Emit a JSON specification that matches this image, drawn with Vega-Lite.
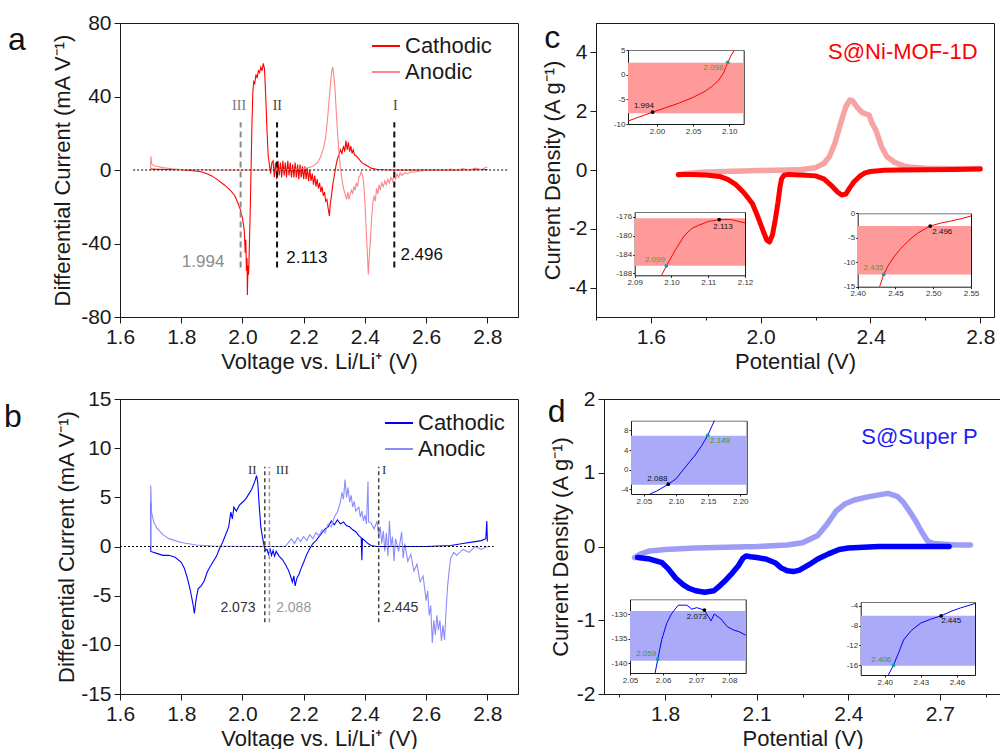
{
"$schema": "https://vega.github.io/schema/vega-lite/v6.json",
"padding": {"left": 3, "top": 11, "right": 0, "bottom": 0},
"config": {
 "font": "Liberation Sans",
 "view": {"stroke": "#1a1a1a", "strokeWidth": 1},
 "axis": {"labelFont": "Liberation Sans", "titleFont": "Liberation Sans", "labelFontSize": 21, "titleFontSize": 22, "titleFontWeight": "normal", "labelColor": "#1a1a1a", "titleColor": "#1a1a1a", "domainColor": "#1a1a1a", "tickColor": "#1a1a1a", "grid": false, "labelPadding": 3, "titlePadding": 4, "labelOverlap": false, "labelFlush": false, "labelBound": false},
 "legend": {"labelFont": "Liberation Sans", "labelFontSize": 22, "labelColor": "#1a1a1a", "symbolStrokeWidth": 2, "symbolSize": 784, "symbolType": "stroke", "rowPadding": 0, "labelOffset": 4},
 "title": {"font": "Liberation Sans", "fontWeight": "normal", "fontSize": 32, "color": "#111"}
},
"resolve": {"scale": {"color": "independent"}, "legend": {"color": "independent"}},
"spacing": 14,
"vconcat": [
 {"spacing": 21, "hconcat": [
  {"width": 398, "height": 294,
   "title": {"text": "a", "orient": "left", "angle": 0, "anchor": "end", "align": "right", "baseline": "top", "frame": "group", "offset": 8, "dy": 2},
   "layer": [
    {"data": {"name": "aLines"}, "mark": {"type": "line", "strokeWidth": 1.1},
     "encoding": {
      "x": {"field": "x", "type": "quantitative", "scale": {"domain": [1.6, 2.9], "nice": false, "zero": false},
            "axis": {"orient": "bottom", "title": "Voltage vs. Li/Li⁺ (V)", "values": [1.6,1.7,1.8,1.9,2.0,2.1,2.2,2.3,2.4,2.5,2.6,2.7,2.8,2.9], "labelExpr": "round(datum.value*10)%2==0 ? format(datum.value,'.1f') : ''", "tickSize": {"condition": {"test": "round(datum.value*10)%2==0", "value": 6}, "value": 3}}},
      "y": {"field": "y", "type": "quantitative", "scale": {"domain": [-80, 80], "nice": false, "zero": false},
            "axis": {"orient": "left", "title": "Differential Current (mA V⁻¹)", "titlePadding": 6, "values": [-80,-60,-40,-20,0,20,40,60,80], "labelExpr": "datum.value%40==0 ? replace(format(datum.value,'d'),'−','-') : ''", "tickSize": {"condition": {"test": "datum.value%40==0", "value": 6}, "value": 3}}},
      "color": {"field": "s", "type": "nominal", "scale": {"domain": ["Cathodic", "Anodic"], "range": ["#FF0000", "#FF8585"]}, "legend": {"orient": "none", "legendX": 251, "legendY": 8, "title": null}}
     }},
    {"data": {"values": [{"x": 1.643, "x2": 2.866, "y": 0}]}, "mark": {"type": "rule", "color": "#000", "strokeDash": [2, 2], "strokeWidth": 1},
     "encoding": {"x": {"field": "x", "type": "quantitative"}, "x2": {"field": "x2"}, "y": {"field": "y", "type": "quantitative"}}},
    {"data": {"name": "aRules"}, "mark": {"type": "rule", "strokeDash": [6, 4], "strokeWidth": 2},
     "encoding": {"x": {"field": "x", "type": "quantitative"}, "y": {"field": "y1", "type": "quantitative"}, "y2": {"field": "y2"}, "color": {"condition": {"test": "datum.x < 2", "value": "#8c8c8c"}, "value": "#111"}}},
    {"data": {"name": "aRoman"}, "mark": {"type": "text", "font": "Liberation Serif", "fontSize": 14, "baseline": "middle"},
     "encoding": {"x": {"field": "x", "type": "quantitative"}, "y": {"field": "y", "type": "quantitative"}, "text": {"field": "t"}, "color": {"condition": {"test": "datum.t=='III'", "value": "#777"}, "value": "#444"}}},
    {"data": {"name": "aVals"}, "mark": {"type": "text", "fontSize": 17, "align": "left", "baseline": "middle"},
     "encoding": {"x": {"field": "x", "type": "quantitative"}, "y": {"field": "y", "type": "quantitative"}, "text": {"field": "t"}, "color": {"condition": {"test": "datum.t=='1.994'", "value": "#8c8c8c"}, "value": "#111"}}}
   ]},
  {"width": 398, "height": 294,
   "title": {"text": "c", "orient": "left", "angle": 0, "anchor": "end", "align": "right", "baseline": "top", "frame": "group", "offset": -35, "dy": 0},
   "resolve": {"scale": {"x": "independent", "y": "independent"}},
   "layer": [
    {"layer": [
     {"data": {"name": "cLines"}, "transform": [{"filter": "datum.s=='Anodic'"}], "mark": {"type": "line", "color": "#F7A3A3", "strokeWidth": 5.5, "strokeCap": "round", "strokeJoin": "round"},
      "encoding": {
       "x": {"field": "x", "type": "quantitative", "scale": {"domain": [1.4, 2.85], "nice": false, "zero": false},
             "axis": {"orient": "bottom", "title": "Potential (V)", "values": [1.4,1.6,1.8,2.0,2.2,2.4,2.6,2.8], "labelExpr": "round(datum.value*10)%4==0 ? format(datum.value,'.1f') : ''", "tickSize": {"condition": {"test": "round(datum.value*10)%4==0", "value": 6}, "value": 3}}},
       "y": {"field": "y", "type": "quantitative", "scale": {"domain": [-5, 5], "nice": false, "zero": false},
             "axis": {"orient": "left", "title": "Current Density (A g⁻¹)", "values": [-4, -2, 0, 2, 4], "labelExpr": "replace(datum.label,'−','-')", "tickSize": 6}}
      }},
     {"data": {"name": "cLines"}, "transform": [{"filter": "datum.s=='Cathodic'"}], "mark": {"type": "line", "color": "#FF0000", "strokeWidth": 5, "strokeCap": "round", "strokeJoin": "round"},
      "encoding": {"x": {"field": "x", "type": "quantitative"}, "y": {"field": "y", "type": "quantitative"}}},
     {"data": {"values": [{"x": 2.79, "y": 4.0, "t": "S@Ni-MOF-1D"}]}, "mark": {"type": "text", "align": "right", "baseline": "middle", "fontSize": 22, "color": "#FF0000"},
      "encoding": {"x": {"field": "x", "type": "quantitative"}, "y": {"field": "y", "type": "quantitative"}, "text": {"field": "t"}}}
    ]},
    {"resolve": {"axis": {"x": "independent", "y": "independent"}}, "layer": [
     {"data": {"name": "bands"}, "transform": [{"filter": "datum.p=='c1'"}], "mark": {"type": "rect", "color": "#FF9A9A"},
      "encoding": {
       "x": {"field": "x1", "type": "quantitative", "scale": {"domain": [1.96, 2.12], "range": [32, 147.7], "nice": false, "zero": false}, "axis": {"orient": "bottom", "offset": -193, "values": [2.0, 2.05, 2.1], "format": ".2f", "labelFontSize": 8, "tickSize": 2, "labelPadding": 1, "title": null, "labelColor": "#333"}},
       "x2": {"field": "x2"},
       "y": {"field": "y1", "type": "quantitative", "scale": {"domain": [-10, 5], "range": [101, 27], "nice": false, "zero": false}, "axis": {"orient": "left", "offset": -32, "values": [-10, -5, 0, 5], "labelExpr": "replace(datum.label,'−','-')", "labelFontSize": 8, "tickSize": 2, "labelPadding": 1, "title": null, "labelColor": "#333"}},
       "y2": {"field": "y2"}}},
     {"data": {"name": "insetCurves"}, "transform": [{"filter": "datum.p=='c1'"}], "mark": {"type": "line", "color": "#FF0000", "strokeWidth": 1},
      "encoding": {"x": {"field": "x", "type": "quantitative", "axis": {"orient": "top", "offset": -27, "labels": false, "ticks": false, "title": null, "domainColor": "#777"}}, "y": {"field": "y", "type": "quantitative", "axis": {"orient": "right", "offset": -250.3, "labels": false, "ticks": false, "title": null}}}},
     {"data": {"name": "insetMarks"}, "transform": [{"filter": "datum.p=='c1'"}], "mark": {"type": "circle", "size": 14, "opacity": 1},
      "encoding": {"x": {"field": "x", "type": "quantitative", "axis": null}, "y": {"field": "y", "type": "quantitative", "axis": null}, "color": {"condition": {"test": "datum.k=='o'", "value": "#169E9E"}, "value": "#000"}}},
     {"data": {"name": "insetMarks"}, "transform": [{"filter": "datum.p=='c1'"}], "mark": {"type": "text", "fontSize": 8, "baseline": "middle"},
      "encoding": {"x": {"field": "lx", "type": "quantitative", "axis": null}, "y": {"field": "ly", "type": "quantitative", "axis": null}, "text": {"field": "t"}, "color": {"condition": {"test": "datum.k=='o'", "value": "#5A9A2A"}, "value": "#111"}}}
    ]},
    {"resolve": {"axis": {"x": "independent", "y": "independent"}}, "layer": [
     {"data": {"name": "bands"}, "transform": [{"filter": "datum.p=='c2'"}], "mark": {"type": "rect", "color": "#FF9A9A"},
      "encoding": {
       "x": {"field": "x1", "type": "quantitative", "scale": {"domain": [2.09, 2.12], "range": [38.7, 149], "nice": false, "zero": false}, "axis": {"orient": "bottom", "offset": -41.7, "values": [2.09, 2.1, 2.11, 2.12], "format": ".2f", "labelFontSize": 8, "tickSize": 2, "labelPadding": 1, "title": null, "labelColor": "#333"}},
       "x2": {"field": "x2"},
       "y": {"field": "y1", "type": "quantitative", "scale": {"domain": [-188.4, -175], "range": [252.3, 189], "nice": false, "zero": false}, "axis": {"orient": "left", "offset": -38.7, "values": [-188, -184, -180, -176], "labelExpr": "replace(datum.label,'−','-')", "labelFontSize": 8, "tickSize": 2, "labelPadding": 1, "title": null, "labelColor": "#333"}},
       "y2": {"field": "y2"}}},
     {"data": {"name": "insetCurves"}, "transform": [{"filter": "datum.p=='c2'"}], "mark": {"type": "line", "color": "#FF0000", "strokeWidth": 1},
      "encoding": {"x": {"field": "x", "type": "quantitative", "axis": {"orient": "top", "offset": -189, "labels": false, "ticks": false, "title": null, "domainColor": "#777"}}, "y": {"field": "y", "type": "quantitative", "axis": {"orient": "right", "offset": -249, "labels": false, "ticks": false, "title": null}}}},
     {"data": {"name": "insetMarks"}, "transform": [{"filter": "datum.p=='c2'"}], "mark": {"type": "circle", "size": 14, "opacity": 1},
      "encoding": {"x": {"field": "x", "type": "quantitative", "axis": null}, "y": {"field": "y", "type": "quantitative", "axis": null}, "color": {"condition": {"test": "datum.k=='o'", "value": "#169E9E"}, "value": "#000"}}},
     {"data": {"name": "insetMarks"}, "transform": [{"filter": "datum.p=='c2'"}], "mark": {"type": "text", "fontSize": 8, "baseline": "middle"},
      "encoding": {"x": {"field": "lx", "type": "quantitative", "axis": null}, "y": {"field": "ly", "type": "quantitative", "axis": null}, "text": {"field": "t"}, "color": {"condition": {"test": "datum.k=='o'", "value": "#5A9A2A"}, "value": "#111"}}}
    ]},
    {"resolve": {"axis": {"x": "independent", "y": "independent"}}, "layer": [
     {"data": {"name": "bands"}, "transform": [{"filter": "datum.p=='c3'"}], "mark": {"type": "rect", "color": "#FF9A9A"},
      "encoding": {
       "x": {"field": "x1", "type": "quantitative", "scale": {"domain": [2.4, 2.55], "range": [261.7, 375], "nice": false, "zero": false}, "axis": {"orient": "bottom", "offset": -30.3, "values": [2.4, 2.45, 2.5, 2.55], "format": ".2f", "labelFontSize": 8, "tickSize": 2, "labelPadding": 1, "title": null, "labelColor": "#333"}},
       "x2": {"field": "x2"},
       "y": {"field": "y1", "type": "quantitative", "scale": {"domain": [-15, 0], "range": [263.7, 190.3], "nice": false, "zero": false}, "axis": {"orient": "left", "offset": -261.7, "values": [-15, -10, -5, 0], "labelExpr": "replace(datum.label,'−','-')", "labelFontSize": 8, "tickSize": 2, "labelPadding": 1, "title": null, "labelColor": "#333"}},
       "y2": {"field": "y2"}}},
     {"data": {"name": "insetCurves"}, "transform": [{"filter": "datum.p=='c3'"}], "mark": {"type": "line", "color": "#FF0000", "strokeWidth": 1},
      "encoding": {"x": {"field": "x", "type": "quantitative", "axis": {"orient": "top", "offset": -190.3, "labels": false, "ticks": false, "title": null, "domainColor": "#777"}}, "y": {"field": "y", "type": "quantitative", "axis": {"orient": "right", "offset": -23, "labels": false, "ticks": false, "title": null}}}},
     {"data": {"name": "insetMarks"}, "transform": [{"filter": "datum.p=='c3'"}], "mark": {"type": "circle", "size": 14, "opacity": 1},
      "encoding": {"x": {"field": "x", "type": "quantitative", "axis": null}, "y": {"field": "y", "type": "quantitative", "axis": null}, "color": {"condition": {"test": "datum.k=='o'", "value": "#169E9E"}, "value": "#000"}}},
     {"data": {"name": "insetMarks"}, "transform": [{"filter": "datum.p=='c3'"}], "mark": {"type": "text", "fontSize": 8, "baseline": "middle"},
      "encoding": {"x": {"field": "lx", "type": "quantitative", "axis": null}, "y": {"field": "ly", "type": "quantitative", "axis": null}, "text": {"field": "t"}, "color": {"condition": {"test": "datum.k=='o'", "value": "#5A9A2A"}, "value": "#111"}}}
    ]}
   ]}
 ]},
 {"spacing": 28, "hconcat": [
  {"width": 398, "height": 295,
   "title": {"text": "b", "orient": "left", "angle": 0, "anchor": "end", "align": "right", "baseline": "top", "frame": "group", "offset": 16, "dy": 3},
   "layer": [
    {"data": {"name": "bLines"}, "mark": {"type": "line", "strokeWidth": 1.1},
     "encoding": {
      "x": {"field": "x", "type": "quantitative", "scale": {"domain": [1.6, 2.9], "nice": false, "zero": false},
            "axis": {"orient": "bottom", "title": "Voltage vs. Li/Li⁺ (V)", "values": [1.6,1.7,1.8,1.9,2.0,2.1,2.2,2.3,2.4,2.5,2.6,2.7,2.8,2.9], "labelExpr": "round(datum.value*10)%2==0 ? format(datum.value,'.1f') : ''", "tickSize": {"condition": {"test": "round(datum.value*10)%2==0", "value": 6}, "value": 3}}},
      "y": {"field": "y", "type": "quantitative", "scale": {"domain": [-15, 15], "nice": false, "zero": false},
            "axis": {"orient": "left", "title": "Differential Current (mA V⁻¹)", "titlePadding": 2, "values": [-15,-12.5,-10,-7.5,-5,-2.5,0,2.5,5,7.5,10,12.5,15], "labelExpr": "datum.value%5==0 ? replace(format(datum.value,'d'),'−','-') : ''", "tickSize": {"condition": {"test": "datum.value%5==0", "value": 6}, "value": 3}}},
      "color": {"field": "s", "type": "nominal", "scale": {"domain": ["Cathodic", "Anodic"], "range": ["#0000FF", "#8C8CFF"]}, "legend": {"orient": "none", "legendX": 264, "legendY": 9, "title": null}}
     }},
    {"data": {"values": [{"x": 1.6, "x2": 2.82, "y": 0}]}, "mark": {"type": "rule", "color": "#000", "strokeDash": [2, 2], "strokeWidth": 1},
     "encoding": {"x": {"field": "x", "type": "quantitative"}, "x2": {"field": "x2"}, "y": {"field": "y", "type": "quantitative"}}},
    {"data": {"name": "bRules"}, "mark": {"type": "rule", "strokeDash": [4, 3], "strokeWidth": 1.5},
     "encoding": {"x": {"field": "x", "type": "quantitative"}, "y": {"field": "y1", "type": "quantitative"}, "y2": {"field": "y2"}, "color": {"condition": {"test": "datum.x > 2.08 && datum.x < 2.1", "value": "#999"}, "value": "#444"}}},
    {"data": {"name": "bRoman"}, "mark": {"type": "text", "font": "Liberation Serif", "fontSize": 13, "baseline": "middle"},
     "encoding": {"x": {"field": "x", "type": "quantitative"}, "y": {"field": "y", "type": "quantitative"}, "text": {"field": "t"}, "color": {"value": "#333"}}},
    {"data": {"name": "bVals"}, "mark": {"type": "text", "fontSize": 14, "align": "left", "baseline": "middle"},
     "encoding": {"x": {"field": "x", "type": "quantitative"}, "y": {"field": "y", "type": "quantitative"}, "text": {"field": "t"}, "color": {"condition": {"test": "datum.t=='2.088'", "value": "#999"}, "value": "#333"}}}
   ]},
  {"width": 397, "height": 295,
   "title": {"text": "d", "orient": "left", "angle": 0, "anchor": "end", "align": "right", "baseline": "top", "frame": "group", "offset": -34, "dy": -2},
   "resolve": {"scale": {"x": "independent", "y": "independent"}},
   "layer": [
    {"layer": [
     {"data": {"name": "dLines"}, "transform": [{"filter": "datum.s=='Anodic'"}], "mark": {"type": "line", "color": "#9D9DF6", "strokeWidth": 5.5, "strokeCap": "round", "strokeJoin": "round"},
      "encoding": {
       "x": {"field": "x", "type": "quantitative", "scale": {"domain": [1.6, 2.9], "nice": false, "zero": false},
             "axis": {"orient": "bottom", "title": "Potential (V)", "values": [1.65,1.8,1.95,2.1,2.25,2.4,2.55,2.7,2.85], "labelExpr": "round(datum.value*100)%30==0 ? format(datum.value,'.1f') : ''", "tickSize": {"condition": {"test": "round(datum.value*100)%30==0", "value": 6}, "value": 3}}},
       "y": {"field": "y", "type": "quantitative", "scale": {"domain": [-2, 2], "nice": false, "zero": false},
             "axis": {"orient": "left", "title": "Current Density (A g⁻¹)", "values": [-2,-1.5,-1,-0.5,0,0.5,1,1.5,2], "labelExpr": "datum.value%1==0 ? replace(format(datum.value,'d'),'−','-') : ''", "tickSize": {"condition": {"test": "datum.value%1==0", "value": 6}, "value": 3}}}
      }},
     {"data": {"name": "dLines"}, "transform": [{"filter": "datum.s=='Cathodic'"}], "mark": {"type": "line", "color": "#0000FF", "strokeWidth": 5.5, "strokeCap": "round", "strokeJoin": "round"},
      "encoding": {"x": {"field": "x", "type": "quantitative"}, "y": {"field": "y", "type": "quantitative"}}},
     {"data": {"values": [{"x": 2.824, "y": 1.49, "t": "S@Super P"}]}, "mark": {"type": "text", "align": "right", "baseline": "middle", "fontSize": 22, "color": "#1E1EF0"},
      "encoding": {"x": {"field": "x", "type": "quantitative"}, "y": {"field": "y", "type": "quantitative"}, "text": {"field": "t"}}}
    ]},
    {"resolve": {"axis": {"x": "independent", "y": "independent"}}, "layer": [
     {"data": {"name": "bands"}, "transform": [{"filter": "datum.p=='d1'"}], "mark": {"type": "rect", "color": "#AAAAF8"},
      "encoding": {
       "x": {"field": "x1", "type": "quantitative", "scale": {"domain": [2.03, 2.21], "range": [27, 142.7], "nice": false, "zero": false}, "axis": {"orient": "bottom", "offset": -200, "values": [2.05, 2.1, 2.15, 2.2], "format": ".2f", "labelFontSize": 8, "tickSize": 2, "labelPadding": 1, "title": null, "labelColor": "#333"}},
       "x2": {"field": "x2"},
       "y": {"field": "y1", "type": "quantitative", "scale": {"domain": [-5, 10], "range": [95, 21.7], "nice": false, "zero": false}, "axis": {"orient": "left", "offset": -27, "values": [-4, 0, 4, 8], "labelExpr": "replace(datum.label,'−','-')", "labelFontSize": 8, "tickSize": 2, "labelPadding": 1, "title": null, "labelColor": "#333"}},
       "y2": {"field": "y2"}}},
     {"data": {"name": "insetCurves"}, "transform": [{"filter": "datum.p=='d1'"}], "mark": {"type": "line", "color": "#0000FF", "strokeWidth": 1},
      "encoding": {"x": {"field": "x", "type": "quantitative", "axis": {"orient": "top", "offset": -21.7, "labels": false, "ticks": false, "title": null, "domainColor": "#777"}}, "y": {"field": "y", "type": "quantitative", "axis": {"orient": "right", "offset": -254.3, "labels": false, "ticks": false, "title": null}}}},
     {"data": {"name": "insetMarks"}, "transform": [{"filter": "datum.p=='d1'"}], "mark": {"type": "circle", "size": 14, "opacity": 1},
      "encoding": {"x": {"field": "x", "type": "quantitative", "axis": null}, "y": {"field": "y", "type": "quantitative", "axis": null}, "color": {"condition": {"test": "datum.k=='o'", "value": "#169E9E"}, "value": "#000"}}},
     {"data": {"name": "insetMarks"}, "transform": [{"filter": "datum.p=='d1'"}], "mark": {"type": "text", "fontSize": 8, "baseline": "middle"},
      "encoding": {"x": {"field": "lx", "type": "quantitative", "axis": null}, "y": {"field": "ly", "type": "quantitative", "axis": null}, "text": {"field": "t"}, "color": {"condition": {"test": "datum.k=='o'", "value": "#3C9A2A"}, "value": "#111"}}}
    ]},
    {"resolve": {"axis": {"x": "independent", "y": "independent"}}, "layer": [
     {"data": {"name": "bands"}, "transform": [{"filter": "datum.p=='d2'"}], "mark": {"type": "rect", "color": "#AAAAF8"},
      "encoding": {
       "x": {"field": "x1", "type": "quantitative", "scale": {"domain": [2.05, 2.085], "range": [26, 141.7], "nice": false, "zero": false}, "axis": {"orient": "bottom", "offset": -21, "values": [2.05, 2.06, 2.07, 2.08], "format": ".2f", "labelFontSize": 8, "tickSize": 2, "labelPadding": 1, "title": null, "labelColor": "#333"}},
       "x2": {"field": "x2"},
       "y": {"field": "y1", "type": "quantitative", "scale": {"domain": [-142, -127], "range": [274, 200.3], "nice": false, "zero": false}, "axis": {"orient": "left", "offset": -26, "values": [-140, -135, -130], "labelExpr": "replace(datum.label,'−','-')", "labelFontSize": 8, "tickSize": 2, "labelPadding": 1, "title": null, "labelColor": "#333"}},
       "y2": {"field": "y2"}}},
     {"data": {"name": "insetCurves"}, "transform": [{"filter": "datum.p=='d2'"}], "mark": {"type": "line", "color": "#0000FF", "strokeWidth": 1},
      "encoding": {"x": {"field": "x", "type": "quantitative", "axis": {"orient": "top", "offset": -200.3, "labels": false, "ticks": false, "title": null, "domainColor": "#777"}}, "y": {"field": "y", "type": "quantitative", "axis": {"orient": "right", "offset": -255.3, "labels": false, "ticks": false, "title": null}}}},
     {"data": {"name": "insetMarks"}, "transform": [{"filter": "datum.p=='d2'"}], "mark": {"type": "circle", "size": 14, "opacity": 1},
      "encoding": {"x": {"field": "x", "type": "quantitative", "axis": null}, "y": {"field": "y", "type": "quantitative", "axis": null}, "color": {"condition": {"test": "datum.k=='o'", "value": "#169E9E"}, "value": "#000"}}},
     {"data": {"name": "insetMarks"}, "transform": [{"filter": "datum.p=='d2'"}], "mark": {"type": "text", "fontSize": 8, "baseline": "middle"},
      "encoding": {"x": {"field": "lx", "type": "quantitative", "axis": null}, "y": {"field": "ly", "type": "quantitative", "axis": null}, "text": {"field": "t"}, "color": {"condition": {"test": "datum.k=='o'", "value": "#3C9A2A"}, "value": "#111"}}}
    ]},
    {"resolve": {"axis": {"x": "independent", "y": "independent"}}, "layer": [
     {"data": {"name": "bands"}, "transform": [{"filter": "datum.p=='d3'"}], "mark": {"type": "rect", "color": "#AAAAF8"},
      "encoding": {
       "x": {"field": "x1", "type": "quantitative", "scale": {"domain": [2.38, 2.475], "range": [256.7, 371], "nice": false, "zero": false}, "axis": {"orient": "bottom", "offset": -19, "values": [2.4, 2.43, 2.46], "format": ".2f", "labelFontSize": 8, "tickSize": 2, "labelPadding": 1, "title": null, "labelColor": "#333"}},
       "x2": {"field": "x2"},
       "y": {"field": "y1", "type": "quantitative", "scale": {"domain": [-18, -3.2], "range": [276, 203], "nice": false, "zero": false}, "axis": {"orient": "left", "offset": -256.7, "values": [-16, -12, -8, -4], "labelExpr": "replace(datum.label,'−','-')", "labelFontSize": 8, "tickSize": 2, "labelPadding": 1, "title": null, "labelColor": "#333"}},
       "y2": {"field": "y2"}}},
     {"data": {"name": "insetCurves"}, "transform": [{"filter": "datum.p=='d3'"}], "mark": {"type": "line", "color": "#0000FF", "strokeWidth": 1},
      "encoding": {"x": {"field": "x", "type": "quantitative", "axis": {"orient": "top", "offset": -203, "labels": false, "ticks": false, "title": null, "domainColor": "#777"}}, "y": {"field": "y", "type": "quantitative", "axis": {"orient": "right", "offset": -26, "labels": false, "ticks": false, "title": null}}}},
     {"data": {"name": "insetMarks"}, "transform": [{"filter": "datum.p=='d3'"}], "mark": {"type": "circle", "size": 14, "opacity": 1},
      "encoding": {"x": {"field": "x", "type": "quantitative", "axis": null}, "y": {"field": "y", "type": "quantitative", "axis": null}, "color": {"condition": {"test": "datum.k=='o'", "value": "#169E9E"}, "value": "#000"}}},
     {"data": {"name": "insetMarks"}, "transform": [{"filter": "datum.p=='d3'"}], "mark": {"type": "text", "fontSize": 8, "baseline": "middle"},
      "encoding": {"x": {"field": "lx", "type": "quantitative", "axis": null}, "y": {"field": "ly", "type": "quantitative", "axis": null}, "text": {"field": "t"}, "color": {"condition": {"test": "datum.k=='o'", "value": "#3C9A2A"}, "value": "#111"}}}
    ]}
   ]}
 ]}
],
"datasets": {
 "aRules": [{"x": 1.994, "y1": -53, "y2": 26}, {"x": 2.113, "y1": -53, "y2": 26}, {"x": 2.496, "y1": -53, "y2": 26}],
 "aRoman": [{"x": 1.989, "y": 34.7, "t": "III"}, {"x": 2.114, "y": 35, "t": "II"}, {"x": 2.499, "y": 35, "t": "I"}],
 "aVals": [{"x": 1.802, "y": -50, "t": "1.994"}, {"x": 2.143, "y": -48, "t": "2.113"}, {"x": 2.516, "y": -46.5, "t": "2.496"}],
 "bRules": [{"x": 2.073, "y1": -7.7, "y2": 8.1}, {"x": 2.088, "y1": -7.7, "y2": 8.1}, {"x": 2.445, "y1": -7.7, "y2": 8.1}],
 "bRoman": [{"x": 2.032, "y": 7.8, "t": "II"}, {"x": 2.13, "y": 7.8, "t": "III"}, {"x": 2.463, "y": 7.8, "t": "I"}],
 "bVals": [{"x": 1.928, "y": -6.3, "t": "2.073"}, {"x": 2.11, "y": -6.3, "t": "2.088"}, {"x": 2.46, "y": -6.3, "t": "2.445"}],
 "bands": [
  {"p": "c1", "x1": 1.96, "x2": 2.12, "y1": -7.8, "y2": 2.4},
  {"p": "c2", "x1": 2.09, "x2": 2.12, "y1": -186.4, "y2": -176.3},
  {"p": "c3", "x1": 2.4, "x2": 2.55, "y1": -12.5, "y2": -2.6},
  {"p": "d1", "x1": 2.03, "x2": 2.21, "y1": -3.1, "y2": 6.9},
  {"p": "d2", "x1": 2.05, "x2": 2.085, "y1": -139.5, "y2": -129.4},
  {"p": "d3", "x1": 2.38, "x2": 2.475, "y1": -16.1, "y2": -6.0}
 ],
 "insetMarks": [
  {"p": "c1", "x": 1.994, "y": -7.6, "lx": 1.982, "ly": -6.4, "t": "1.994", "k": "e"},
  {"p": "c1", "x": 2.098, "y": 2.5, "lx": 2.078, "ly": 1.4, "t": "2.098", "k": "o"},
  {"p": "c2", "x": 2.113, "y": -176.6, "lx": 2.114, "ly": -178.1, "t": "2.113", "k": "e"},
  {"p": "c2", "x": 2.0986, "y": -186.4, "lx": 2.0955, "ly": -185.2, "t": "2.099", "k": "o"},
  {"p": "c3", "x": 2.496, "y": -2.6, "lx": 2.512, "ly": -3.75, "t": "2.496", "k": "e"},
  {"p": "c3", "x": 2.4345, "y": -12.5, "lx": 2.421, "ly": -11.2, "t": "2.435", "k": "o"},
  {"p": "d1", "x": 2.088, "y": -3.0, "lx": 2.071, "ly": -1.9, "t": "2.088", "k": "e"},
  {"p": "d1", "x": 2.1494, "y": 7.0, "lx": 2.1685, "ly": 5.9, "t": "2.149", "k": "o"},
  {"p": "d2", "x": 2.0725, "y": -129.2, "lx": 2.0702, "ly": -130.7, "t": "2.073", "k": "e"},
  {"p": "d2", "x": 2.0584, "y": -139.2, "lx": 2.0549, "ly": -138.2, "t": "2.059", "k": "o"},
  {"p": "d3", "x": 2.4469, "y": -6.0, "lx": 2.4552, "ly": -7.0, "t": "2.445", "k": "e"},
  {"p": "d3", "x": 2.4073, "y": -16, "lx": 2.3971, "ly": -15, "t": "2.406", "k": "o"}
 ],
 "insetCurves": [
  {"p": "c1", "x": 1.96, "y": -9.4}, {"p": "c1", "x": 1.975, "y": -8.6}, {"p": "c1", "x": 1.994, "y": -7.6}, {"p": "c1", "x": 2.01, "y": -6.8}, {"p": "c1", "x": 2.03, "y": -5.8}, {"p": "c1", "x": 2.05, "y": -4.6}, {"p": "c1", "x": 2.065, "y": -3.5}, {"p": "c1", "x": 2.075, "y": -2.5}, {"p": "c1", "x": 2.085, "y": -1.2}, {"p": "c1", "x": 2.092, "y": 0.3}, {"p": "c1", "x": 2.098, "y": 2.5}, {"p": "c1", "x": 2.103, "y": 4}, {"p": "c1", "x": 2.107, "y": 5},
  {"p": "c2", "x": 2.0973, "y": -188.4}, {"p": "c2", "x": 2.0986, "y": -186.4}, {"p": "c2", "x": 2.1011, "y": -183}, {"p": "c2", "x": 2.1035, "y": -180}, {"p": "c2", "x": 2.1055, "y": -178.5}, {"p": "c2", "x": 2.1074, "y": -177.8}, {"p": "c2", "x": 2.1101, "y": -177}, {"p": "c2", "x": 2.1132, "y": -176.6}, {"p": "c2", "x": 2.1161, "y": -176.6}, {"p": "c2", "x": 2.12, "y": -177.3},
  {"p": "c3", "x": 2.429, "y": -15}, {"p": "c3", "x": 2.4345, "y": -12.5}, {"p": "c3", "x": 2.44, "y": -10.8}, {"p": "c3", "x": 2.448, "y": -8.9}, {"p": "c3", "x": 2.457, "y": -7.2}, {"p": "c3", "x": 2.468, "y": -5.5}, {"p": "c3", "x": 2.479, "y": -4.1}, {"p": "c3", "x": 2.49, "y": -3.1}, {"p": "c3", "x": 2.496, "y": -2.6}, {"p": "c3", "x": 2.51, "y": -2}, {"p": "c3", "x": 2.523, "y": -1.6}, {"p": "c3", "x": 2.537, "y": -1.1}, {"p": "c3", "x": 2.55, "y": -0.55},
  {"p": "d1", "x": 2.0596, "y": -5}, {"p": "d1", "x": 2.07, "y": -4.4}, {"p": "d1", "x": 2.088, "y": -3.0}, {"p": "d1", "x": 2.1, "y": -1.9}, {"p": "d1", "x": 2.117, "y": 0.9}, {"p": "d1", "x": 2.13, "y": 3}, {"p": "d1", "x": 2.14, "y": 4.9}, {"p": "d1", "x": 2.1494, "y": 7.0}, {"p": "d1", "x": 2.1597, "y": 10},
  {"p": "d2", "x": 2.0576, "y": -142}, {"p": "d2", "x": 2.0584, "y": -139.2}, {"p": "d2", "x": 2.0596, "y": -135.2}, {"p": "d2", "x": 2.0611, "y": -131.9}, {"p": "d2", "x": 2.0626, "y": -129.9}, {"p": "d2", "x": 2.0646, "y": -128.2}, {"p": "d2", "x": 2.0672, "y": -128.2}, {"p": "d2", "x": 2.0687, "y": -129}, {"p": "d2", "x": 2.0702, "y": -128.7}, {"p": "d2", "x": 2.0725, "y": -129.2}, {"p": "d2", "x": 2.0745, "y": -131.4}, {"p": "d2", "x": 2.0755, "y": -130}, {"p": "d2", "x": 2.0775, "y": -131}, {"p": "d2", "x": 2.0795, "y": -132.6}, {"p": "d2", "x": 2.0815, "y": -133.3}, {"p": "d2", "x": 2.083, "y": -133.6}, {"p": "d2", "x": 2.085, "y": -134.3},
  {"p": "d3", "x": 2.403, "y": -18}, {"p": "d3", "x": 2.4073, "y": -16}, {"p": "d3", "x": 2.411, "y": -13.8}, {"p": "d3", "x": 2.4156, "y": -10.9}, {"p": "d3", "x": 2.422, "y": -9}, {"p": "d3", "x": 2.4297, "y": -7.5}, {"p": "d3", "x": 2.438, "y": -6.7}, {"p": "d3", "x": 2.4469, "y": -6.0}, {"p": "d3", "x": 2.455, "y": -5.1}, {"p": "d3", "x": 2.463, "y": -4.4}, {"p": "d3", "x": 2.475, "y": -3.5}
 ],
 "cLines": [
  {"s": "Anodic", "x": 1.7, "y": -0.17}, {"s": "Anodic", "x": 1.72, "y": -0.13}, {"s": "Anodic", "x": 1.75, "y": -0.1}, {"s": "Anodic", "x": 1.8, "y": -0.07}, {"s": "Anodic", "x": 1.9, "y": -0.04}, {"s": "Anodic", "x": 2.0, "y": -0.02}, {"s": "Anodic", "x": 2.1, "y": 0}, {"s": "Anodic", "x": 2.15, "y": 0.02}, {"s": "Anodic", "x": 2.2, "y": 0.08}, {"s": "Anodic", "x": 2.23, "y": 0.22}, {"s": "Anodic", "x": 2.25, "y": 0.45}, {"s": "Anodic", "x": 2.27, "y": 0.9}, {"s": "Anodic", "x": 2.29, "y": 1.55}, {"s": "Anodic", "x": 2.31, "y": 2.15}, {"s": "Anodic", "x": 2.325, "y": 2.38}, {"s": "Anodic", "x": 2.335, "y": 2.35}, {"s": "Anodic", "x": 2.35, "y": 2.15}, {"s": "Anodic", "x": 2.37, "y": 1.95}, {"s": "Anodic", "x": 2.385, "y": 1.9}, {"s": "Anodic", "x": 2.395, "y": 1.87}, {"s": "Anodic", "x": 2.405, "y": 1.6}, {"s": "Anodic", "x": 2.42, "y": 1.35}, {"s": "Anodic", "x": 2.44, "y": 0.8}, {"s": "Anodic", "x": 2.46, "y": 0.45}, {"s": "Anodic", "x": 2.49, "y": 0.25}, {"s": "Anodic", "x": 2.52, "y": 0.14}, {"s": "Anodic", "x": 2.55, "y": 0.09}, {"s": "Anodic", "x": 2.6, "y": 0.06}, {"s": "Anodic", "x": 2.7, "y": 0.04}, {"s": "Anodic", "x": 2.8, "y": 0.05},
  {"s": "Cathodic", "x": 1.7, "y": -0.15}, {"s": "Cathodic", "x": 1.75, "y": -0.15}, {"s": "Cathodic", "x": 1.8, "y": -0.17}, {"s": "Cathodic", "x": 1.85, "y": -0.22}, {"s": "Cathodic", "x": 1.88, "y": -0.32}, {"s": "Cathodic", "x": 1.91, "y": -0.5}, {"s": "Cathodic", "x": 1.94, "y": -0.78}, {"s": "Cathodic", "x": 1.97, "y": -1.15}, {"s": "Cathodic", "x": 1.99, "y": -1.6}, {"s": "Cathodic", "x": 2.01, "y": -2.1}, {"s": "Cathodic", "x": 2.022, "y": -2.38}, {"s": "Cathodic", "x": 2.032, "y": -2.45}, {"s": "Cathodic", "x": 2.043, "y": -2.2}, {"s": "Cathodic", "x": 2.053, "y": -1.7}, {"s": "Cathodic", "x": 2.063, "y": -1.1}, {"s": "Cathodic", "x": 2.07, "y": -0.6}, {"s": "Cathodic", "x": 2.076, "y": -0.3}, {"s": "Cathodic", "x": 2.085, "y": -0.18}, {"s": "Cathodic", "x": 2.1, "y": -0.15}, {"s": "Cathodic", "x": 2.15, "y": -0.17}, {"s": "Cathodic", "x": 2.2, "y": -0.2}, {"s": "Cathodic", "x": 2.23, "y": -0.3}, {"s": "Cathodic", "x": 2.26, "y": -0.55}, {"s": "Cathodic", "x": 2.28, "y": -0.75}, {"s": "Cathodic", "x": 2.295, "y": -0.85}, {"s": "Cathodic", "x": 2.31, "y": -0.82}, {"s": "Cathodic", "x": 2.325, "y": -0.6}, {"s": "Cathodic", "x": 2.34, "y": -0.4}, {"s": "Cathodic", "x": 2.36, "y": -0.22}, {"s": "Cathodic", "x": 2.38, "y": -0.1}, {"s": "Cathodic", "x": 2.4, "y": -0.05}, {"s": "Cathodic", "x": 2.45, "y": -0.01}, {"s": "Cathodic", "x": 2.5, "y": 0}, {"s": "Cathodic", "x": 2.6, "y": 0.01}, {"s": "Cathodic", "x": 2.7, "y": 0.02}, {"s": "Cathodic", "x": 2.8, "y": 0.03}
 ],
 "dLines": [
  {"s": "Anodic", "x": 1.7, "y": -0.15}, {"s": "Anodic", "x": 1.72, "y": -0.1}, {"s": "Anodic", "x": 1.75, "y": -0.06}, {"s": "Anodic", "x": 1.8, "y": -0.04}, {"s": "Anodic", "x": 1.9, "y": -0.02}, {"s": "Anodic", "x": 2.0, "y": -0.01}, {"s": "Anodic", "x": 2.1, "y": 0}, {"s": "Anodic", "x": 2.2, "y": 0.02}, {"s": "Anodic", "x": 2.25, "y": 0.05}, {"s": "Anodic", "x": 2.3, "y": 0.15}, {"s": "Anodic", "x": 2.33, "y": 0.3}, {"s": "Anodic", "x": 2.36, "y": 0.48}, {"s": "Anodic", "x": 2.39, "y": 0.58}, {"s": "Anodic", "x": 2.42, "y": 0.63}, {"s": "Anodic", "x": 2.46, "y": 0.67}, {"s": "Anodic", "x": 2.5, "y": 0.7}, {"s": "Anodic", "x": 2.53, "y": 0.72}, {"s": "Anodic", "x": 2.56, "y": 0.68}, {"s": "Anodic", "x": 2.58, "y": 0.6}, {"s": "Anodic", "x": 2.6, "y": 0.48}, {"s": "Anodic", "x": 2.62, "y": 0.35}, {"s": "Anodic", "x": 2.64, "y": 0.2}, {"s": "Anodic", "x": 2.66, "y": 0.07}, {"s": "Anodic", "x": 2.68, "y": 0.04}, {"s": "Anodic", "x": 2.75, "y": 0.02}, {"s": "Anodic", "x": 2.8, "y": 0.02},
  {"s": "Cathodic", "x": 1.71, "y": -0.15}, {"s": "Cathodic", "x": 1.75, "y": -0.17}, {"s": "Cathodic", "x": 1.79, "y": -0.22}, {"s": "Cathodic", "x": 1.81, "y": -0.3}, {"s": "Cathodic", "x": 1.835, "y": -0.43}, {"s": "Cathodic", "x": 1.86, "y": -0.52}, {"s": "Cathodic", "x": 1.88, "y": -0.57}, {"s": "Cathodic", "x": 1.9, "y": -0.6}, {"s": "Cathodic", "x": 1.93, "y": -0.62}, {"s": "Cathodic", "x": 1.96, "y": -0.6}, {"s": "Cathodic", "x": 1.98, "y": -0.53}, {"s": "Cathodic", "x": 2.0, "y": -0.45}, {"s": "Cathodic", "x": 2.02, "y": -0.36}, {"s": "Cathodic", "x": 2.04, "y": -0.26}, {"s": "Cathodic", "x": 2.055, "y": -0.16}, {"s": "Cathodic", "x": 2.065, "y": -0.13}, {"s": "Cathodic", "x": 2.08, "y": -0.14}, {"s": "Cathodic", "x": 2.1, "y": -0.15}, {"s": "Cathodic", "x": 2.13, "y": -0.17}, {"s": "Cathodic", "x": 2.16, "y": -0.22}, {"s": "Cathodic", "x": 2.18, "y": -0.29}, {"s": "Cathodic", "x": 2.2, "y": -0.33}, {"s": "Cathodic", "x": 2.22, "y": -0.34}, {"s": "Cathodic", "x": 2.24, "y": -0.32}, {"s": "Cathodic", "x": 2.27, "y": -0.25}, {"s": "Cathodic", "x": 2.3, "y": -0.17}, {"s": "Cathodic", "x": 2.335, "y": -0.1}, {"s": "Cathodic", "x": 2.37, "y": -0.04}, {"s": "Cathodic", "x": 2.4, "y": -0.02}, {"s": "Cathodic", "x": 2.5, "y": 0}, {"s": "Cathodic", "x": 2.6, "y": 0}, {"s": "Cathodic", "x": 2.73, "y": 0}
 ],
 "aLines": [
  {"s": "Cathodic", "x": 1.7, "y": 0.5}, {"s": "Cathodic", "x": 1.75, "y": 0.3}, {"s": "Cathodic", "x": 1.8, "y": 0.1}, {"s": "Cathodic", "x": 1.83, "y": -0.3}, {"s": "Cathodic", "x": 1.86, "y": -0.8}, {"s": "Cathodic", "x": 1.88, "y": -1.8}, {"s": "Cathodic", "x": 1.9, "y": -3.2}, {"s": "Cathodic", "x": 1.92, "y": -5.5}, {"s": "Cathodic", "x": 1.94, "y": -8}, {"s": "Cathodic", "x": 1.96, "y": -11}, {"s": "Cathodic", "x": 1.975, "y": -14}, {"s": "Cathodic", "x": 1.985, "y": -18}, {"s": "Cathodic", "x": 1.992, "y": -21}, {"s": "Cathodic", "x": 2.0, "y": -26}, {"s": "Cathodic", "x": 2.006, "y": -33}, {"s": "Cathodic", "x": 2.009, "y": -45}, {"s": "Cathodic", "x": 2.011, "y": -38}, {"s": "Cathodic", "x": 2.013, "y": -55}, {"s": "Cathodic", "x": 2.015, "y": -48}, {"s": "Cathodic", "x": 2.016, "y": -68}, {"s": "Cathodic", "x": 2.018, "y": -52}, {"s": "Cathodic", "x": 2.02, "y": -57}, {"s": "Cathodic", "x": 2.022, "y": -45}, {"s": "Cathodic", "x": 2.025, "y": -25}, {"s": "Cathodic", "x": 2.028, "y": 0}, {"s": "Cathodic", "x": 2.031, "y": 25}, {"s": "Cathodic", "x": 2.034, "y": 43}, {"s": "Cathodic", "x": 2.037, "y": 48}, {"s": "Cathodic", "x": 2.04, "y": 47}, {"s": "Cathodic", "x": 2.044, "y": 52}, {"s": "Cathodic", "x": 2.048, "y": 50}, {"s": "Cathodic", "x": 2.052, "y": 54}, {"s": "Cathodic", "x": 2.056, "y": 53}, {"s": "Cathodic", "x": 2.06, "y": 56}, {"s": "Cathodic", "x": 2.064, "y": 54}, {"s": "Cathodic", "x": 2.068, "y": 58}, {"s": "Cathodic", "x": 2.072, "y": 55}, {"s": "Cathodic", "x": 2.076, "y": 40}, {"s": "Cathodic", "x": 2.08, "y": 22}, {"s": "Cathodic", "x": 2.084, "y": 8}, {"s": "Cathodic", "x": 2.088, "y": 3}, {"s": "Cathodic", "x": 2.092, "y": -2}, {"s": "Cathodic", "x": 2.096, "y": 4},
  {"s": "Cathodic", "x": 2.1, "y": 5}, {"s": "Cathodic", "x": 2.104, "y": -4}, {"s": "Cathodic", "x": 2.108, "y": 4}, {"s": "Cathodic", "x": 2.112, "y": -5}, {"s": "Cathodic", "x": 2.116, "y": 5}, {"s": "Cathodic", "x": 2.12, "y": -3}, {"s": "Cathodic", "x": 2.124, "y": 4}, {"s": "Cathodic", "x": 2.128, "y": -4}, {"s": "Cathodic", "x": 2.132, "y": 5}, {"s": "Cathodic", "x": 2.136, "y": -3}, {"s": "Cathodic", "x": 2.14, "y": 4}, {"s": "Cathodic", "x": 2.144, "y": -4}, {"s": "Cathodic", "x": 2.148, "y": 5}, {"s": "Cathodic", "x": 2.152, "y": -3}, {"s": "Cathodic", "x": 2.156, "y": 4}, {"s": "Cathodic", "x": 2.16, "y": -4}, {"s": "Cathodic", "x": 2.164, "y": 3}, {"s": "Cathodic", "x": 2.168, "y": -4}, {"s": "Cathodic", "x": 2.172, "y": 4}, {"s": "Cathodic", "x": 2.176, "y": -4}, {"s": "Cathodic", "x": 2.18, "y": 3}, {"s": "Cathodic", "x": 2.184, "y": -5}, {"s": "Cathodic", "x": 2.188, "y": 3}, {"s": "Cathodic", "x": 2.192, "y": -4}, {"s": "Cathodic", "x": 2.196, "y": 2}, {"s": "Cathodic", "x": 2.2, "y": -5}, {"s": "Cathodic", "x": 2.204, "y": 2}, {"s": "Cathodic", "x": 2.208, "y": -5}, {"s": "Cathodic", "x": 2.212, "y": 1}, {"s": "Cathodic", "x": 2.216, "y": -6}, {"s": "Cathodic", "x": 2.22, "y": 0}, {"s": "Cathodic", "x": 2.224, "y": -6}, {"s": "Cathodic", "x": 2.228, "y": -2}, {"s": "Cathodic", "x": 2.232, "y": -8}, {"s": "Cathodic", "x": 2.236, "y": -3}, {"s": "Cathodic", "x": 2.24, "y": -9}, {"s": "Cathodic", "x": 2.244, "y": -5}, {"s": "Cathodic", "x": 2.248, "y": -10}, {"s": "Cathodic", "x": 2.252, "y": -7}, {"s": "Cathodic", "x": 2.256, "y": -12}, {"s": "Cathodic", "x": 2.26, "y": -9}, {"s": "Cathodic", "x": 2.264, "y": -14}, {"s": "Cathodic", "x": 2.268, "y": -12}, {"s": "Cathodic", "x": 2.272, "y": -17}, {"s": "Cathodic", "x": 2.276, "y": -16}, {"s": "Cathodic", "x": 2.28, "y": -21}, {"s": "Cathodic", "x": 2.284, "y": -25}, {"s": "Cathodic", "x": 2.287, "y": -18}, {"s": "Cathodic", "x": 2.29, "y": -15}, {"s": "Cathodic", "x": 2.295, "y": -8}, {"s": "Cathodic", "x": 2.3, "y": -3}, {"s": "Cathodic", "x": 2.305, "y": 2}, {"s": "Cathodic", "x": 2.31, "y": 6}, {"s": "Cathodic", "x": 2.315, "y": 8}, {"s": "Cathodic", "x": 2.32, "y": 11}, {"s": "Cathodic", "x": 2.325, "y": 9}, {"s": "Cathodic", "x": 2.33, "y": 13}, {"s": "Cathodic", "x": 2.334, "y": 10}, {"s": "Cathodic", "x": 2.338, "y": 16}, {"s": "Cathodic", "x": 2.342, "y": 11}, {"s": "Cathodic", "x": 2.346, "y": 15}, {"s": "Cathodic", "x": 2.35, "y": 10}, {"s": "Cathodic", "x": 2.354, "y": 13}, {"s": "Cathodic", "x": 2.358, "y": 9}, {"s": "Cathodic", "x": 2.362, "y": 11}, {"s": "Cathodic", "x": 2.366, "y": 8}, {"s": "Cathodic", "x": 2.37, "y": 8}, {"s": "Cathodic", "x": 2.38, "y": 6}, {"s": "Cathodic", "x": 2.39, "y": 4}, {"s": "Cathodic", "x": 2.4, "y": 3}, {"s": "Cathodic", "x": 2.41, "y": 2}, {"s": "Cathodic", "x": 2.42, "y": 1}, {"s": "Cathodic", "x": 2.44, "y": 0.3}, {"s": "Cathodic", "x": 2.46, "y": 0.1}, {"s": "Cathodic", "x": 2.5, "y": 0}, {"s": "Cathodic", "x": 2.6, "y": 0}, {"s": "Cathodic", "x": 2.7, "y": 0}, {"s": "Cathodic", "x": 2.8, "y": 0.3},
  {"s": "Anodic", "x": 1.7, "y": 0}, {"s": "Anodic", "x": 1.701, "y": 7.5}, {"s": "Anodic", "x": 1.703, "y": 3.5}, {"s": "Anodic", "x": 1.71, "y": 2.5}, {"s": "Anodic", "x": 1.72, "y": 2}, {"s": "Anodic", "x": 1.74, "y": 1.3}, {"s": "Anodic", "x": 1.77, "y": 0.7}, {"s": "Anodic", "x": 1.8, "y": 0.3}, {"s": "Anodic", "x": 1.85, "y": 0.1}, {"s": "Anodic", "x": 1.9, "y": 0}, {"s": "Anodic", "x": 2.0, "y": 0}, {"s": "Anodic", "x": 2.1, "y": 0}, {"s": "Anodic", "x": 2.15, "y": 0.2}, {"s": "Anodic", "x": 2.19, "y": 0.5}, {"s": "Anodic", "x": 2.21, "y": 1}, {"s": "Anodic", "x": 2.23, "y": 2}, {"s": "Anodic", "x": 2.245, "y": 4}, {"s": "Anodic", "x": 2.255, "y": 7}, {"s": "Anodic", "x": 2.265, "y": 12}, {"s": "Anodic", "x": 2.272, "y": 18}, {"s": "Anodic", "x": 2.278, "y": 28}, {"s": "Anodic", "x": 2.283, "y": 38}, {"s": "Anodic", "x": 2.288, "y": 48}, {"s": "Anodic", "x": 2.292, "y": 54}, {"s": "Anodic", "x": 2.295, "y": 56}, {"s": "Anodic", "x": 2.298, "y": 52}, {"s": "Anodic", "x": 2.302, "y": 45}, {"s": "Anodic", "x": 2.306, "y": 33}, {"s": "Anodic", "x": 2.31, "y": 22}, {"s": "Anodic", "x": 2.315, "y": 10}, {"s": "Anodic", "x": 2.32, "y": 1}, {"s": "Anodic", "x": 2.325, "y": -5}, {"s": "Anodic", "x": 2.33, "y": -10}, {"s": "Anodic", "x": 2.335, "y": -13}, {"s": "Anodic", "x": 2.34, "y": -16}, {"s": "Anodic", "x": 2.344, "y": -12}, {"s": "Anodic", "x": 2.348, "y": -16}, {"s": "Anodic", "x": 2.352, "y": -13}, {"s": "Anodic", "x": 2.356, "y": -11}, {"s": "Anodic", "x": 2.36, "y": -13}, {"s": "Anodic", "x": 2.364, "y": -9}, {"s": "Anodic", "x": 2.368, "y": -11}, {"s": "Anodic", "x": 2.372, "y": -7}, {"s": "Anodic", "x": 2.376, "y": -9}, {"s": "Anodic", "x": 2.38, "y": -4}, {"s": "Anodic", "x": 2.384, "y": -3}, {"s": "Anodic", "x": 2.388, "y": -1}, {"s": "Anodic", "x": 2.392, "y": -3}, {"s": "Anodic", "x": 2.396, "y": -7}, {"s": "Anodic", "x": 2.4, "y": -18}, {"s": "Anodic", "x": 2.404, "y": -32}, {"s": "Anodic", "x": 2.408, "y": -45}, {"s": "Anodic", "x": 2.411, "y": -57}, {"s": "Anodic", "x": 2.414, "y": -48}, {"s": "Anodic", "x": 2.418, "y": -38}, {"s": "Anodic", "x": 2.422, "y": -26}, {"s": "Anodic", "x": 2.426, "y": -18}, {"s": "Anodic", "x": 2.43, "y": -14}, {"s": "Anodic", "x": 2.434, "y": -17}, {"s": "Anodic", "x": 2.438, "y": -10}, {"s": "Anodic", "x": 2.442, "y": -13}, {"s": "Anodic", "x": 2.446, "y": -8}, {"s": "Anodic", "x": 2.45, "y": -11}, {"s": "Anodic", "x": 2.455, "y": -7}, {"s": "Anodic", "x": 2.46, "y": -9}, {"s": "Anodic", "x": 2.465, "y": -6}, {"s": "Anodic", "x": 2.47, "y": -8}, {"s": "Anodic", "x": 2.475, "y": -5}, {"s": "Anodic", "x": 2.48, "y": -7}, {"s": "Anodic", "x": 2.485, "y": -4}, {"s": "Anodic", "x": 2.49, "y": -6}, {"s": "Anodic", "x": 2.495, "y": -3}, {"s": "Anodic", "x": 2.5, "y": -5}, {"s": "Anodic", "x": 2.505, "y": -2}, {"s": "Anodic", "x": 2.51, "y": -4}, {"s": "Anodic", "x": 2.515, "y": -1.5}, {"s": "Anodic", "x": 2.52, "y": -3}, {"s": "Anodic", "x": 2.53, "y": -1.5}, {"s": "Anodic", "x": 2.54, "y": -2}, {"s": "Anodic", "x": 2.55, "y": -1}, {"s": "Anodic", "x": 2.56, "y": -1.2}, {"s": "Anodic", "x": 2.58, "y": -0.5}, {"s": "Anodic", "x": 2.6, "y": -0.3}, {"s": "Anodic", "x": 2.62, "y": 0}, {"s": "Anodic", "x": 2.64, "y": 0.3}, {"s": "Anodic", "x": 2.66, "y": -0.3}, {"s": "Anodic", "x": 2.68, "y": 0.5}, {"s": "Anodic", "x": 2.7, "y": -0.2}, {"s": "Anodic", "x": 2.72, "y": 0.8}, {"s": "Anodic", "x": 2.74, "y": 0}, {"s": "Anodic", "x": 2.76, "y": 1}, {"s": "Anodic", "x": 2.78, "y": 0.3}, {"s": "Anodic", "x": 2.8, "y": 1.8}
 ],
 "bLines": [
  {"s": "Cathodic", "x": 1.7, "y": 4.5}, {"s": "Cathodic", "x": 1.7005, "y": -0.5}, {"s": "Cathodic", "x": 1.72, "y": -0.7}, {"s": "Cathodic", "x": 1.74, "y": -0.9}, {"s": "Cathodic", "x": 1.76, "y": -0.9}, {"s": "Cathodic", "x": 1.78, "y": -1.1}, {"s": "Cathodic", "x": 1.8, "y": -1.6}, {"s": "Cathodic", "x": 1.81, "y": -2.2}, {"s": "Cathodic", "x": 1.82, "y": -3.2}, {"s": "Cathodic", "x": 1.83, "y": -4.5}, {"s": "Cathodic", "x": 1.838, "y": -5.8}, {"s": "Cathodic", "x": 1.843, "y": -6.8}, {"s": "Cathodic", "x": 1.848, "y": -5.5}, {"s": "Cathodic", "x": 1.855, "y": -4.3}, {"s": "Cathodic", "x": 1.865, "y": -4}, {"s": "Cathodic", "x": 1.875, "y": -3.5}, {"s": "Cathodic", "x": 1.885, "y": -2.6}, {"s": "Cathodic", "x": 1.895, "y": -2}, {"s": "Cathodic", "x": 1.905, "y": -1.5}, {"s": "Cathodic", "x": 1.915, "y": -1}, {"s": "Cathodic", "x": 1.925, "y": -0.2}, {"s": "Cathodic", "x": 1.935, "y": 0.4}, {"s": "Cathodic", "x": 1.945, "y": 1.2}, {"s": "Cathodic", "x": 1.955, "y": 2}, {"s": "Cathodic", "x": 1.962, "y": 3.5}, {"s": "Cathodic", "x": 1.967, "y": 2.8}, {"s": "Cathodic", "x": 1.972, "y": 4}, {"s": "Cathodic", "x": 1.98, "y": 3.6}, {"s": "Cathodic", "x": 1.99, "y": 4.2}, {"s": "Cathodic", "x": 2.0, "y": 4.5}, {"s": "Cathodic", "x": 2.01, "y": 4.8}, {"s": "Cathodic", "x": 2.02, "y": 5.3}, {"s": "Cathodic", "x": 2.03, "y": 5.8}, {"s": "Cathodic", "x": 2.04, "y": 6.6}, {"s": "Cathodic", "x": 2.046, "y": 7.2}, {"s": "Cathodic", "x": 2.05, "y": 6.5}, {"s": "Cathodic", "x": 2.055, "y": 4}, {"s": "Cathodic", "x": 2.06, "y": 2}, {"s": "Cathodic", "x": 2.065, "y": 1}, {"s": "Cathodic", "x": 2.07, "y": 0.2}, {"s": "Cathodic", "x": 2.075, "y": -0.4}, {"s": "Cathodic", "x": 2.08, "y": -0.3}, {"s": "Cathodic", "x": 2.085, "y": -0.8}, {"s": "Cathodic", "x": 2.09, "y": -0.2}, {"s": "Cathodic", "x": 2.095, "y": -0.9}, {"s": "Cathodic", "x": 2.1, "y": -0.4}, {"s": "Cathodic", "x": 2.105, "y": -1}, {"s": "Cathodic", "x": 2.11, "y": -0.5}, {"s": "Cathodic", "x": 2.12, "y": -1}, {"s": "Cathodic", "x": 2.13, "y": -1.3}, {"s": "Cathodic", "x": 2.14, "y": -1.8}, {"s": "Cathodic", "x": 2.15, "y": -2.4}, {"s": "Cathodic", "x": 2.157, "y": -3}, {"s": "Cathodic", "x": 2.163, "y": -3.6}, {"s": "Cathodic", "x": 2.168, "y": -3}, {"s": "Cathodic", "x": 2.172, "y": -4}, {"s": "Cathodic", "x": 2.178, "y": -3.2}, {"s": "Cathodic", "x": 2.185, "y": -2.8}, {"s": "Cathodic", "x": 2.192, "y": -2.2}, {"s": "Cathodic", "x": 2.2, "y": -1.6}, {"s": "Cathodic", "x": 2.21, "y": -0.8}, {"s": "Cathodic", "x": 2.22, "y": -0.2}, {"s": "Cathodic", "x": 2.23, "y": 0.3}, {"s": "Cathodic", "x": 2.24, "y": 0.6}, {"s": "Cathodic", "x": 2.25, "y": 1}, {"s": "Cathodic", "x": 2.26, "y": 1.4}, {"s": "Cathodic", "x": 2.27, "y": 1.8}, {"s": "Cathodic", "x": 2.28, "y": 2}, {"s": "Cathodic", "x": 2.29, "y": 2.6}, {"s": "Cathodic", "x": 2.3, "y": 2.2}, {"s": "Cathodic", "x": 2.31, "y": 2.7}, {"s": "Cathodic", "x": 2.32, "y": 2.3}, {"s": "Cathodic", "x": 2.33, "y": 2.5}, {"s": "Cathodic", "x": 2.34, "y": 2.1}, {"s": "Cathodic", "x": 2.35, "y": 2}, {"s": "Cathodic", "x": 2.36, "y": 1.7}, {"s": "Cathodic", "x": 2.37, "y": 1.5}, {"s": "Cathodic", "x": 2.38, "y": 1.1}, {"s": "Cathodic", "x": 2.388, "y": 0.9}, {"s": "Cathodic", "x": 2.39, "y": -1.4}, {"s": "Cathodic", "x": 2.392, "y": 0.8}, {"s": "Cathodic", "x": 2.4, "y": 0.6}, {"s": "Cathodic", "x": 2.41, "y": 0.3}, {"s": "Cathodic", "x": 2.42, "y": 0.1}, {"s": "Cathodic", "x": 2.44, "y": 0}, {"s": "Cathodic", "x": 2.5, "y": 0}, {"s": "Cathodic", "x": 2.6, "y": 0}, {"s": "Cathodic", "x": 2.68, "y": 0.1}, {"s": "Cathodic", "x": 2.72, "y": 0.3}, {"s": "Cathodic", "x": 2.76, "y": 0.5}, {"s": "Cathodic", "x": 2.78, "y": 0.6}, {"s": "Cathodic", "x": 2.795, "y": 0.8}, {"s": "Cathodic", "x": 2.798, "y": 2.6}, {"s": "Cathodic", "x": 2.8, "y": 0.5},
  {"s": "Anodic", "x": 1.7, "y": 0}, {"s": "Anodic", "x": 1.7005, "y": 6.2}, {"s": "Anodic", "x": 1.703, "y": 3.5}, {"s": "Anodic", "x": 1.71, "y": 2.5}, {"s": "Anodic", "x": 1.72, "y": 1.9}, {"s": "Anodic", "x": 1.74, "y": 1.2}, {"s": "Anodic", "x": 1.76, "y": 0.8}, {"s": "Anodic", "x": 1.8, "y": 0.4}, {"s": "Anodic", "x": 1.85, "y": 0.15}, {"s": "Anodic", "x": 1.9, "y": 0.05}, {"s": "Anodic", "x": 2.0, "y": 0}, {"s": "Anodic", "x": 2.14, "y": 0}, {"s": "Anodic", "x": 2.15, "y": 0.4}, {"s": "Anodic", "x": 2.16, "y": 0.8}, {"s": "Anodic", "x": 2.17, "y": 0.3}, {"s": "Anodic", "x": 2.18, "y": 0.9}, {"s": "Anodic", "x": 2.19, "y": 0.5}, {"s": "Anodic", "x": 2.2, "y": 1}, {"s": "Anodic", "x": 2.21, "y": 0.6}, {"s": "Anodic", "x": 2.22, "y": 1.2}, {"s": "Anodic", "x": 2.23, "y": 0.8}, {"s": "Anodic", "x": 2.24, "y": 1.4}, {"s": "Anodic", "x": 2.25, "y": 1.1}, {"s": "Anodic", "x": 2.26, "y": 1.7}, {"s": "Anodic", "x": 2.27, "y": 1.4}, {"s": "Anodic", "x": 2.28, "y": 2.3}, {"s": "Anodic", "x": 2.29, "y": 2}, {"s": "Anodic", "x": 2.3, "y": 3}, {"s": "Anodic", "x": 2.31, "y": 3.5}, {"s": "Anodic", "x": 2.32, "y": 4.5}, {"s": "Anodic", "x": 2.325, "y": 5.5}, {"s": "Anodic", "x": 2.33, "y": 4.8}, {"s": "Anodic", "x": 2.335, "y": 6.8}, {"s": "Anodic", "x": 2.34, "y": 5}, {"s": "Anodic", "x": 2.345, "y": 6}, {"s": "Anodic", "x": 2.35, "y": 4.5}, {"s": "Anodic", "x": 2.355, "y": 5.2}, {"s": "Anodic", "x": 2.36, "y": 4}, {"s": "Anodic", "x": 2.365, "y": 4.6}, {"s": "Anodic", "x": 2.37, "y": 3.6}, {"s": "Anodic", "x": 2.38, "y": 4}, {"s": "Anodic", "x": 2.385, "y": 3}, {"s": "Anodic", "x": 2.39, "y": 3.6}, {"s": "Anodic", "x": 2.395, "y": 2.6}, {"s": "Anodic", "x": 2.4, "y": 3.2}, {"s": "Anodic", "x": 2.405, "y": 2.3}, {"s": "Anodic", "x": 2.41, "y": 6.6}, {"s": "Anodic", "x": 2.412, "y": 2.5}, {"s": "Anodic", "x": 2.42, "y": 2.4}, {"s": "Anodic", "x": 2.43, "y": 1.8}, {"s": "Anodic", "x": 2.44, "y": 2.6}, {"s": "Anodic", "x": 2.445, "y": 1}, {"s": "Anodic", "x": 2.45, "y": 2}, {"s": "Anodic", "x": 2.455, "y": 0.3}, {"s": "Anodic", "x": 2.46, "y": 1.6}, {"s": "Anodic", "x": 2.465, "y": -0.5}, {"s": "Anodic", "x": 2.47, "y": 1.4}, {"s": "Anodic", "x": 2.475, "y": -1}, {"s": "Anodic", "x": 2.48, "y": 2.6}, {"s": "Anodic", "x": 2.485, "y": 0}, {"s": "Anodic", "x": 2.49, "y": 1}, {"s": "Anodic", "x": 2.495, "y": -1.5}, {"s": "Anodic", "x": 2.5, "y": 0.8}, {"s": "Anodic", "x": 2.51, "y": -0.5}, {"s": "Anodic", "x": 2.52, "y": 1.5}, {"s": "Anodic", "x": 2.525, "y": -1.2}, {"s": "Anodic", "x": 2.53, "y": 0.3}, {"s": "Anodic", "x": 2.54, "y": -1.5}, {"s": "Anodic", "x": 2.55, "y": -0.8}, {"s": "Anodic", "x": 2.56, "y": -2.5}, {"s": "Anodic", "x": 2.57, "y": -1.8}, {"s": "Anodic", "x": 2.58, "y": -3.6}, {"s": "Anodic", "x": 2.59, "y": -3}, {"s": "Anodic", "x": 2.6, "y": -5.5}, {"s": "Anodic", "x": 2.605, "y": -4.5}, {"s": "Anodic", "x": 2.61, "y": -7}, {"s": "Anodic", "x": 2.615, "y": -6}, {"s": "Anodic", "x": 2.62, "y": -9.8}, {"s": "Anodic", "x": 2.625, "y": -7.5}, {"s": "Anodic", "x": 2.63, "y": -9}, {"s": "Anodic", "x": 2.635, "y": -7}, {"s": "Anodic", "x": 2.64, "y": -8.5}, {"s": "Anodic", "x": 2.645, "y": -7.5}, {"s": "Anodic", "x": 2.65, "y": -9.6}, {"s": "Anodic", "x": 2.655, "y": -8}, {"s": "Anodic", "x": 2.66, "y": -9.5}, {"s": "Anodic", "x": 2.665, "y": -6.5}, {"s": "Anodic", "x": 2.67, "y": -4}, {"s": "Anodic", "x": 2.675, "y": -2.5}, {"s": "Anodic", "x": 2.68, "y": -1.2}, {"s": "Anodic", "x": 2.69, "y": -0.6}, {"s": "Anodic", "x": 2.7, "y": -0.9}, {"s": "Anodic", "x": 2.72, "y": -0.3}, {"s": "Anodic", "x": 2.74, "y": -0.6}, {"s": "Anodic", "x": 2.76, "y": 0}, {"s": "Anodic", "x": 2.78, "y": -0.3}, {"s": "Anodic", "x": 2.8, "y": 0}
 ]
}
}
